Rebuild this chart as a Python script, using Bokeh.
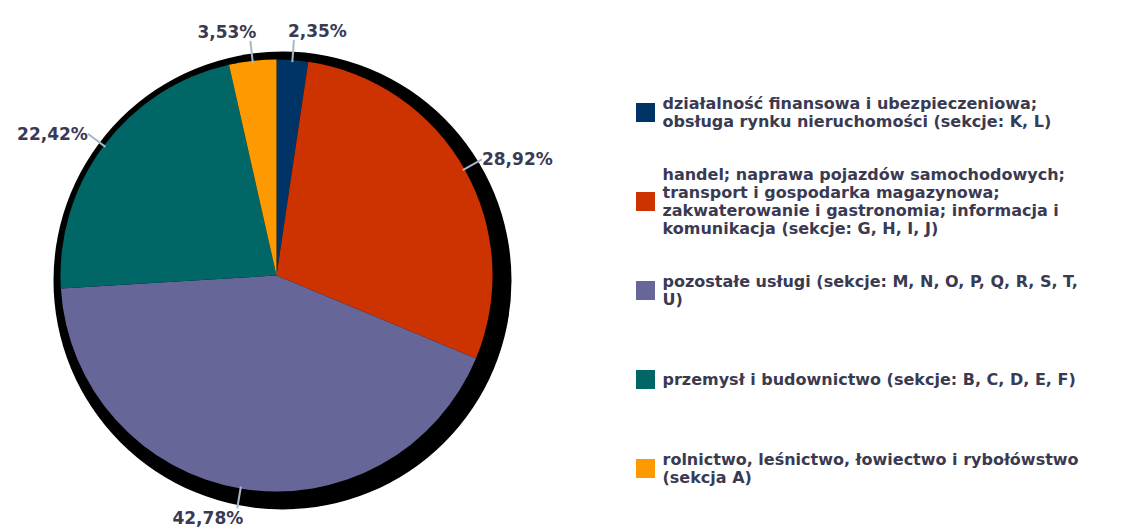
import math
from bokeh.plotting import figure
from bokeh.models import Range1d, ColumnDataSource
from bokeh.core.properties import value
from bokeh.embed import file_html
from bokeh.resources import INLINE

# ---------------- data ----------------
categories = [
    "działalność finansowa i ubezpieczeniowa;\nobsługa rynku nieruchomości (sekcje: K, L)",
    "handel; naprawa pojazdów samochodowych;\ntransport i gospodarka magazynowa;\nzakwaterowanie i gastronomia; informacja i\nkomunikacja (sekcje: G, H, I, J)",
    "pozostałe usługi (sekcje: M, N, O, P, Q, R, S, T,\nU)",
    "przemysł i budownictwo (sekcje: B, C, D, E, F)",
    "rolnictwo, leśnictwo, łowiectwo i rybołówstwo\n(sekcja A)",
]
shares = [2.35, 28.92, 42.78, 22.42, 3.53]
share_labels = ["2,35%", "28,92%", "42,78%", "22,42%", "3,53%"]
colors = ["#003366", "#CC3300", "#666699", "#006666", "#FF9900"]

# ---------------- layout ----------------
W, H = 1141, 527
def Y(img_y):
    return H - img_y

CX, CY, R = 276, Y(275), 216
SH_X, SH_Y, SH_R = 282, Y(280), 229
TEXT_COLOR = "#3a3a52"
LEADER_COLOR = "#a9b6c9"

p = figure(width=W, height=H, output_backend="svg", toolbar_location=None,
           x_range=Range1d(0, W), y_range=Range1d(0, H),
           min_border=0, outline_line_color=None)
p.axis.visible = False
p.grid.visible = False
p.background_fill_color = "white"
p.border_fill_color = "white"

# shadow / rim
p.circle(x=[SH_X], y=[SH_Y], radius=SH_R, fill_color="black", line_color=None)

# wedges (clockwise from 12 o'clock)
total = sum(shares)
starts, ends, mids = [], [], []
c = 0.0
for s in shares:
    c0 = c / total
    c += s
    c1 = c / total
    starts.append(math.radians(90 - 360 * c1))
    ends.append(math.radians(90 - 360 * c0))
    mids.append(math.radians(90 - 360 * (c0 + c1) / 2))

src = ColumnDataSource(dict(start=starts, end=ends, color=colors))
p.wedge(x=CX, y=CY, radius=R, start_angle="start", end_angle="end",
        direction="anticlock", fill_color="color", line_color=None, source=src)

# leaders + labels
x0s, y0s, x1s, y1s = [], [], [], []
for lab, a in zip(share_labels, mids):
    ca, sa = math.cos(a), math.sin(a)
    xa, ya = CX + (R - 2) * ca, CY + (R - 2) * sa
    xb, yb = CX + (R + 20) * ca, CY + (R + 20) * sa
    x0s.append(xa); y0s.append(ya); x1s.append(xb); y1s.append(yb)
    align = "left" if ca >= 0 else "right"
    xo = 0
    if abs(ca) < 0.3:
        xo = -6 if ca >= 0 else 6
    if sa > 0:
        base = "alphabetic"
        yo = 9 if sa > 0.9 else 0
    else:
        base = "top"
        yo = 0
    p.text(x=[xb + xo], y=[yb + yo], text=[lab], text_align=align,
           text_baseline=base, text_font=value("DejaVu Sans"),
           text_font_style="bold", text_font_size="17px", text_color=TEXT_COLOR)
p.segment(x0=x0s, y0=y0s, x1=x1s, y1=y1s, line_color=LEADER_COLOR, line_width=2)

# legend
LEG_SQ_X, LEG_Y0, LEG_STEP, SQ = 645, 112, 89, 19
LEG_TX, LINE_H = 662, 18
for i, (cat, col) in enumerate(zip(categories, colors)):
    cy_img = LEG_Y0 + LEG_STEP * i
    p.rect(x=[LEG_SQ_X], y=[Y(cy_img)], width=SQ, height=SQ,
           fill_color=col, line_color=None)
    lines = cat.split("\n")
    n = len(lines)
    for j, ln in enumerate(lines):
        ly = cy_img + (j - (n - 1) / 2) * LINE_H
        p.text(x=[LEG_TX], y=[Y(ly)], text=[ln], text_align="left",
               text_baseline="middle", text_font=value("DejaVu Sans"),
               text_font_style="bold", text_font_size="16px",
               text_color=TEXT_COLOR)

open("out.html", "w").write(file_html(p, INLINE))
